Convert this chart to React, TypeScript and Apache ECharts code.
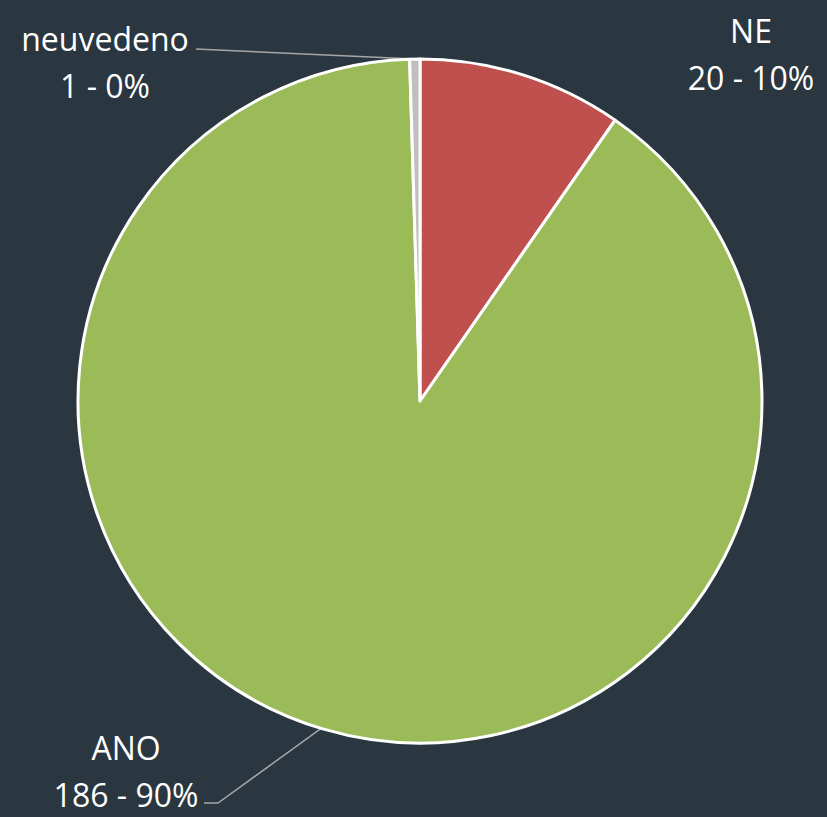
import React, { useEffect, useRef } from "react";
import * as echarts from "echarts";

const categories = ["NE", "ANO", "neuvedeno"];
const values = [20, 186, 1];
const colors = ["#c0504d", "#9bbb59", "#bfbfbf"];

const total = values.reduce((a, b) => a + b, 0);

export default function App() {
  const ref = useRef<HTMLDivElement>(null);
  useEffect(() => {
    document.body.style.margin = "0";
    document.body.style.background = "#2a3640";
    const chart = echarts.init(ref.current!, undefined, { renderer: "svg" });
    const cx = 420;
    const cy = 401;
    const r = 342;
    const edge = (deg: number) => {
      const a = (deg * Math.PI) / 180;
      return [cx + r * Math.cos(a), cy - r * Math.sin(a)];
    };
    chart.setOption({
      animation: false,
      backgroundColor: "#2a3640",
      series: [
        {
          type: "pie",
          center: [cx, cy],
          radius: [0, r],
          startAngle: 90,
          clockwise: true,
          avoidLabelOverlap: false,
          itemStyle: { borderColor: "#ffffff", borderWidth: 3 },
          label: {
            show: true,
            position: "outside",
            color: "#ffffff",
            fontFamily: "Open Sans",
            fontSize: 32,
            lineHeight: 47,
            align: "center",
            formatter: (p: any) =>
              `${p.name}\n${p.value} - ${Math.round((p.value / total) * 100)}%`,
          },
          labelLine: {
            show: true,
            lineStyle: { color: "#a6a6a6", width: 1.5 },
          },
          labelLayout: (p: any) => {
            if (p.dataIndex === 0) {
              return { x: 751, y: 54, align: "center", verticalAlign: "middle", labelLinePoints: [] };
            }
            if (p.dataIndex === 1) {
              const e = edge(253.2);
              return {
                x: 126,
                y: 771,
                align: "center",
                verticalAlign: "middle",
                labelLinePoints: [e, [218, 803], [204, 803]],
              };
            }
            const e = edge(90.87);
            return {
              x: 105,
              y: 62,
              align: "center",
              verticalAlign: "middle",
              labelLinePoints: [e, [196, 49], [196, 49]],
            };
          },
          data: categories.map((name, i) => ({
            name,
            value: values[i],
            itemStyle: { color: colors[i] },
            labelLine: { show: i !== 0 },
          })),
        },
      ],
    });
    return () => chart.dispose();
  }, []);
  return <div ref={ref} style={{ width: 827, height: 817 }} />;
}
